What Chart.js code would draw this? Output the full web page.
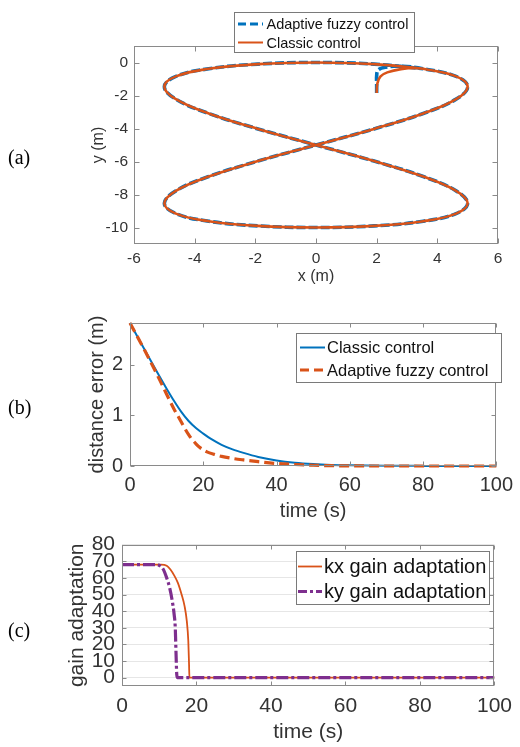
<!DOCTYPE html>
<html><head><meta charset="utf-8">
<script src="https://cdn.jsdelivr.net/npm/chart.js@4/dist/chart.umd.min.js"></script>
<style>
html,body{margin:0;padding:0;background:#fff;}
#wrap{position:relative;width:520px;height:747px;overflow:hidden;background:#fff;}
canvas{position:absolute;left:0;}
.pl{position:absolute;left:8px;font-family:'Liberation Serif','Times New Roman',serif;font-size:20px;color:#000;line-height:20px;}
</style></head><body>
<div id="wrap">
<canvas id="ca" width="520" height="290" style="top:0px"></canvas>
<canvas id="cb" width="520" height="225" style="top:300px"></canvas>
<canvas id="cc" width="520" height="222" style="top:525px"></canvas>
<div class="pl" style="top:147px">(a)</div>
<div class="pl" style="top:397px">(b)</div>
<div class="pl" style="top:620px">(c)</div>
</div>
<script>
// ---------- (a) trajectory data ----------
const pathX = [3.536,4.619,5.0,4.619,3.536,1.913,0,-1.913,-3.536,-4.619,-5.0,-4.619,-3.536,-1.913,0,1.913,3.536,4.619,5.0,4.619,3.536,1.913,0,-1.913,-3.536,-4.619,-5.0,-4.619,-3.536,-1.913,0,1.913,3.536];
const pathY = [-0.381,-0.843,-1.464,-2.222,-3.087,-4.025,-5,-5.975,-6.913,-7.778,-8.536,-9.157,-9.619,-9.904,-10,-9.904,-9.619,-9.157,-8.536,-7.778,-6.913,-5.975,-5,-4.025,-3.087,-2.222,-1.464,-0.843,-0.381,-0.096,0,-0.096,-0.381];
const fuzzyStartX = [2.0,2.0,2.0,2.05,2.3,2.8];
const fuzzyStartY = [-1.85,-1.3,-0.8,-0.45,-0.28,-0.22];
const classicStartX = [2.0,2.02,2.12,2.35,2.8,3.3];
const classicStartY = [-1.85,-1.3,-0.85,-0.6,-0.4,-0.33];
const xTicksA = [-6,-4,-2,0,2,4,6];
const yTicksA = [-10,-8,-6,-4,-2,0];

// ---------- (b) distance error ----------
const timeClassic = [0,4,8,10,12,14,16,18,20,22,25,28,31,35,40,45,50,55,60,70,80,90,100];
const classicErr  = [2.83,2.30,1.78,1.53,1.29,1.07,0.89,0.75,0.64,0.54,0.42,0.33,0.26,0.18,0.11,0.065,0.038,0.022,0.013,0.005,0.002,0,0];
const timeFuzzy = [0,4,8,10,12,13,14,15,16,17,18,19,20,21,23,25,28,31,35,40,45,50,55,60,70,100];
const fuzzyErr  = [2.83,2.29,1.72,1.42,1.13,1.0,0.87,0.74,0.62,0.52,0.44,0.37,0.32,0.28,0.23,0.19,0.15,0.12,0.085,0.05,0.03,0.015,0.006,0.002,0,0];
const xTicksB = [0,20,40,60,80,100];
const yTicksB = [0,1,2];

// ---------- (c) gain adaptation ----------
const timeKx = [0,10.5,12,13,14,15,16,16.8,17.4,17.8,18.0,18.1,100];
const kxGain = [68,68,67.3,65,61.5,57,50,43,34,22,8,0,0];
const timeKy = [0,9.3,10,11,12,12.8,13.5,14,14.3,14.5,14.7,14.9,100];
const kyGain = [68,68,67.5,65.5,60,54,46,38,30,15,2,0,0];
const xTicksC = [0,20,40,60,80,100];
const yTicksC = [0,10,20,30,40,50,60,70,80];

const BLUE = '#0072BD', ORANGE = '#D95319', PURPLE = '#7E2F8E';
const TXT = '#333333';
Chart.defaults.font.family = "'Liberation Sans', Arial, Helvetica, sans-serif";
Chart.defaults.color = TXT;

function pts(xs, ys) { return xs.map((x, i) => ({x: x, y: ys[i]})); }

const framePlugin = {
  id: 'frame',
  afterDatasetsDraw(chart, args, o) {
    const ctx = chart.ctx, ca = chart.chartArea;
    const L = o.tickLen;
    ctx.save();
    ctx.strokeStyle = o.color; ctx.lineWidth = 1;
    const l = Math.round(ca.left) + 0.5, r = Math.round(ca.right) - 0.5;
    const t = Math.round(ca.top) + 0.5, b = Math.round(ca.bottom) - 0.5;
    ctx.beginPath();
    chart.scales.x.ticks.forEach(tk => {
      const px = Math.round(chart.scales.x.getPixelForValue(tk.value)) + 0.5;
      ctx.moveTo(px, b); ctx.lineTo(px, b - L);
      ctx.moveTo(px, t); ctx.lineTo(px, t + L);
    });
    chart.scales.y.ticks.forEach(tk => {
      const py = Math.round(chart.scales.y.getPixelForValue(tk.value)) + 0.5;
      ctx.moveTo(l, py); ctx.lineTo(l + L, py);
      ctx.moveTo(r, py); ctx.lineTo(r - L, py);
    });
    ctx.stroke();
    ctx.strokeRect(l, t, r - l, b - t);
    ctx.restore();
  }
};

const legendPlugin = {
  id: 'boxLegend',
  afterDraw(chart, args, o) {
    const ctx = chart.ctx;
    ctx.save();
    ctx.fillStyle = '#fff';
    ctx.fillRect(o.x, o.y, o.w, o.h);
    ctx.strokeStyle = '#7a7a7a'; ctx.lineWidth = 1;
    ctx.strokeRect(o.x + 0.5, o.y + 0.5, o.w, o.h);
    chart.data.datasets.forEach((ds, i) => {
      const yy = o.rows[i];
      ctx.strokeStyle = ds.borderColor;
      ctx.lineWidth = ds.legendWidth || ds.borderWidth;
      ctx.setLineDash(ds.legendDash || ds.borderDash || []);
      ctx.beginPath(); ctx.moveTo(o.lx0, yy); ctx.lineTo(o.lx1, yy); ctx.stroke();
      ctx.setLineDash([]);
      ctx.fillStyle = '#111';
      ctx.font = o.font;
      ctx.textBaseline = 'middle';
      ctx.textAlign = 'left';
      ctx.fillText(ds.label, o.tx, yy + 1);
    });
    ctx.restore();
  }
};

function axis(cfg) {
  return {
    type: 'linear', min: cfg.min, max: cfg.max,
    afterBuildTicks: s => { s.ticks = cfg.ticks.map(v => ({value: v})); },
    afterFit: s => { if (cfg.width !== undefined) s.width = cfg.width; if (cfg.height !== undefined) s.height = cfg.height; },
    grid: cfg.grid || {display: false, drawTicks: false},
    border: {display: false},
    ticks: {padding: cfg.pad, font: {size: cfg.tickSize}, color: TXT, autoSkip: false, maxRotation: 0, callback: v => String(v)},
    title: {display: true, text: cfg.title, font: {size: cfg.titleSize}, padding: 0, color: TXT}
  };
}

function base(padding, scales, legendOpts, tickLen) {
  return {
    responsive: false, animation: false, events: [],
    layout: {padding: padding},
    scales: scales,
    elements: {point: {radius: 0}},
    plugins: {
      legend: {display: false}, tooltip: {enabled: false},
      frame: {tickLen: tickLen, color: '#8a8a8a'},
      boxLegend: legendOpts
    }
  };
}

// (a)
new Chart(document.getElementById('ca'), {
  type: 'scatter',
  data: {datasets: [
    {label: 'Adaptive fuzzy control', data: pts(fuzzyStartX.concat(pathX), fuzzyStartY.concat(pathY)), order: 1,
     showLine: true, borderColor: BLUE, borderWidth: 3.6, borderDash: [9, 3], legendWidth: 3, legendDash: [8, 4], tension: 0.4, pointRadius: 0},
    {label: 'Classic control', data: pts(classicStartX.concat(pathX), classicStartY.concat(pathY)), order: 0,
     showLine: true, borderColor: ORANGE, borderWidth: 2.6, legendWidth: 2, tension: 0.4, pointRadius: 0}
  ]},
  options: base({left: 89, right: 22, top: 46, bottom: 4}, {
    x: axis({min: -6, max: 6, ticks: xTicksA, height: 42, pad: 5, tickSize: 15.5, title: 'x (m)', titleSize: 16}),
    y: axis({min: -11, max: 1, ticks: yTicksA, width: 45, pad: 6, tickSize: 15.5, title: 'y (m)', titleSize: 16})
  }, {x: 234, y: 12, w: 180, h: 40, rows: [24, 42.5], lx0: 238, lx1: 263, tx: 266.5, font: "14.5px 'Liberation Sans', Arial, sans-serif"}, 5),
  plugins: [framePlugin, legendPlugin]
});

// (b)
new Chart(document.getElementById('cb'), {
  type: 'scatter',
  data: {datasets: [
    {label: 'Classic control', data: pts(timeClassic, classicErr), showLine: true, borderColor: BLUE, borderWidth: 2, order: 1, clip: 5,
     cubicInterpolationMode: 'monotone', pointRadius: 0},
    {label: 'Adaptive fuzzy control', data: pts(timeFuzzy, fuzzyErr), showLine: true, borderColor: ORANGE, borderWidth: 3.2, order: 0, clip: 5,
     borderDash: [10, 5], legendDash: [9, 5], legendWidth: 3, cubicInterpolationMode: 'monotone', pointRadius: 0}
  ]},
  options: base({left: 85, right: 17, top: 23, bottom: 2}, {
    x: axis({min: 0, max: 100, ticks: xTicksB, height: 57, pad: 7, tickSize: 20, title: 'time (s)', titleSize: 20}),
    y: axis({min: 0, max: 2.83, ticks: yTicksB, width: 45, pad: 7, tickSize: 20, title: 'distance error (m)', titleSize: 20})
  }, {x: 296, y: 33, w: 205, h: 49, rows: [47.5, 70], lx0: 300, lx1: 325, tx: 327, font: "16.5px 'Liberation Sans', Arial, sans-serif"}, 4),
  plugins: [framePlugin, legendPlugin]
});

// (c)
new Chart(document.getElementById('cc'), {
  type: 'scatter',
  data: {datasets: [
    {label: 'kx gain adaptation', data: pts(timeKx, kxGain), showLine: true, borderColor: ORANGE, borderWidth: 1.8, order: 1,
     cubicInterpolationMode: 'monotone', pointRadius: 0},
    {label: 'ky gain adaptation', data: pts(timeKy, kyGain), showLine: true, borderColor: PURPLE, borderWidth: 3.2, order: 0,
     borderDash: [12, 3, 3, 3], legendDash: [9, 3, 3, 3], legendWidth: 3, cubicInterpolationMode: 'monotone', pointRadius: 0}
  ]},
  options: base({left: 65, right: 20, top: 18, bottom: 2}, {
    x: axis({min: 0, max: 100, ticks: xTicksC, height: 59, pad: 8, tickSize: 21, title: 'time (s)', titleSize: 21}),
    y: axis({min: -5, max: 80, ticks: yTicksC, width: 57, pad: 7, tickSize: 21, title: 'gain adaptation', titleSize: 21,
             grid: {display: true, drawTicks: false, color: '#e6e6e6', lineWidth: 1}})
  }, {x: 296, y: 26, w: 193, h: 53, rows: [41.5, 66.5], lx0: 298, lx1: 322, tx: 324, font: "20px 'Liberation Sans', Arial, sans-serif"}, 4),
  plugins: [framePlugin, legendPlugin]
});
</script>
</body></html>
